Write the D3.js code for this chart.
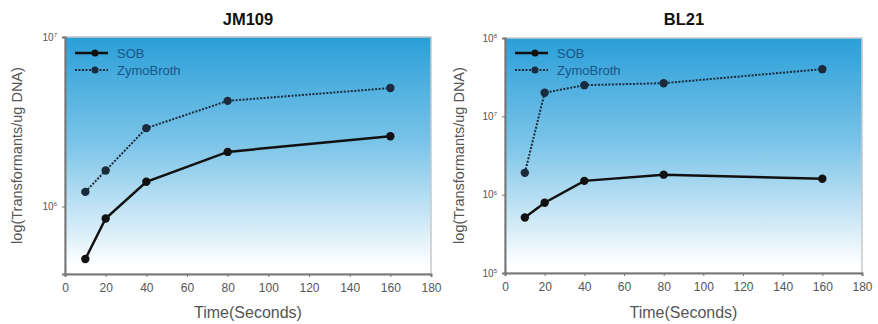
<!DOCTYPE html>
<html><head><meta charset="utf-8">
<script src="https://cdn.jsdelivr.net/npm/d3@7"></script>
<style>body{margin:0;background:#fff}svg{display:block}</style>
</head><body>
<svg id="c" width="878" height="324"></svg>
<script>
const times = [10, 20, 40, 80, 160];
const seriesNames = ["SOB", "ZymoBroth"];
const jm109SOB = [4.9e5, 8.5e5, 1.4e6, 2.1e6, 2.6e6];
const jm109Zymo = [1.22e6, 1.63e6, 2.9e6, 4.2e6, 5.0e6];
const bl21SOB = [5.1e5, 7.9e5, 1.5e6, 1.8e6, 1.6e6];
const bl21Zymo = [1.9e6, 2.0e7, 2.5e7, 2.65e7, 4.0e7];
const xTicks = [0, 20, 40, 60, 80, 100, 120, 140, 160, 180];
const jm109YTicks = [1e6, 1e7];
const bl21YTicks = [1e5, 1e6, 1e7, 1e8];

const svg = d3.select("#c");
const defs = svg.append("defs");
const grad = defs.append("linearGradient").attr("id","bg").attr("x1",0).attr("y1",0).attr("x2",0).attr("y2",1);
grad.append("stop").attr("offset","0%").attr("stop-color","#2a9fd8");
grad.append("stop").attr("offset","45%").attr("stop-color","#7cc4e8");
grad.append("stop").attr("offset","97%").attr("stop-color","#ffffff");

const FF = "Liberation Sans, Arial, sans-serif";
const panels = [
  {title:"JM109", tx:248, xr:[65,431], yd:[4e5,1e7], yr:[274,37], yt:jm109YTicks, sob:jm109SOB, zy:jm109Zymo, ylx:17},
  {title:"BL21", tx:684, xr:[505,862], yd:[1e5,1e8], yr:[273,38], yt:bl21YTicks, sob:bl21SOB, zy:bl21Zymo, ylx:459}
];

panels.forEach(p => {
  const x = d3.scaleLinear().domain([0,180]).range(p.xr);
  const y = d3.scaleLog().domain(p.yd).range(p.yr);
  const g = svg.append("g");
  g.append("rect").attr("x",p.xr[0]).attr("y",p.yr[1]).attr("width",p.xr[1]-p.xr[0]).attr("height",p.yr[0]-p.yr[1])
    .attr("fill","url(#bg)").attr("stroke","#c8c8c8").attr("stroke-width",1.5);

  const xa = g.append("g").attr("transform",`translate(0,${p.yr[0]})`)
    .call(d3.axisBottom(x).tickValues(xTicks).tickSize(3).tickPadding(6).tickFormat(d3.format("d")));
  xa.select(".domain").attr("stroke","#777").attr("stroke-width",2);
  xa.selectAll(".tick line").attr("stroke","#777");
  xa.selectAll("text").attr("fill","#555").attr("font-family",FF).attr("font-size",12);

  const ya = g.append("g").attr("transform",`translate(${p.xr[0]},0)`)
    .call(d3.axisLeft(y).tickValues(p.yt).tickSize(3).tickPadding(5).tickFormat(""));
  ya.select(".domain").attr("stroke","#777").attr("stroke-width",2);
  ya.selectAll(".tick line").attr("stroke","#777");
  ya.selectAll(".tick").each(function(d){
    const t = d3.select(this).select("text").attr("fill","#555").attr("font-family",FF).attr("font-size",10).attr("dy","0.3em");
    t.append("tspan").text("10");
    t.append("tspan").attr("font-size",6).attr("dy","-0.6em").text(Math.round(Math.log10(d)));
  });

  g.append("text").attr("x",p.tx).attr("y",25).attr("text-anchor","middle")
    .attr("font-family",FF).attr("font-weight","bold").attr("font-size",16.5).attr("fill","#111").text(p.title);
  g.append("text").attr("x",(p.xr[0]+p.xr[1])/2).attr("y",318).attr("text-anchor","middle")
    .attr("font-family",FF).attr("font-size",16).attr("fill","#555").text("Time(Seconds)");
  g.append("text").attr("transform",`translate(${p.ylx},${(p.yr[0]+p.yr[1])/2}) rotate(-90)`).attr("text-anchor","middle")
    .attr("dy","0.35em").attr("font-family",FF).attr("font-size",14.5).attr("fill","#555").text("log(Transformants/ug DNA)");

  const line = d3.line().x((d,i)=>x(times[i])).y(d=>y(d));
  const styles = [{data:p.sob, w:2.5, dash:null, c:"#111"}, {data:p.zy, w:2, dash:"2,1.5", c:"#1b2b3b"}];
  styles.forEach((s,k) => {
    g.append("path").datum(s.data).attr("d",line).attr("fill","none").attr("stroke",s.c).attr("stroke-width",s.w).attr("stroke-dasharray",s.dash);
    g.selectAll(null).data(s.data).enter().append("circle").attr("cx",(d,i)=>x(times[i])).attr("cy",d=>y(d)).attr("r",4.2).attr("fill",s.c);
    const ly = 53 + k*17, lx = p.xr[0]+10;
    g.append("line").attr("x1",lx).attr("x2",lx+33).attr("y1",ly).attr("y2",ly).attr("stroke",s.c).attr("stroke-width",s.w).attr("stroke-dasharray",s.dash);
    g.append("circle").attr("cx",lx+20).attr("cy",ly).attr("r",3.5).attr("fill",s.c);
    g.append("text").attr("x",lx+42).attr("y",ly).attr("dy","0.35em").attr("font-family",FF).attr("font-size",13).attr("fill","#1a5588").text(seriesNames[k]);
  });
});
</script>
</body></html>
